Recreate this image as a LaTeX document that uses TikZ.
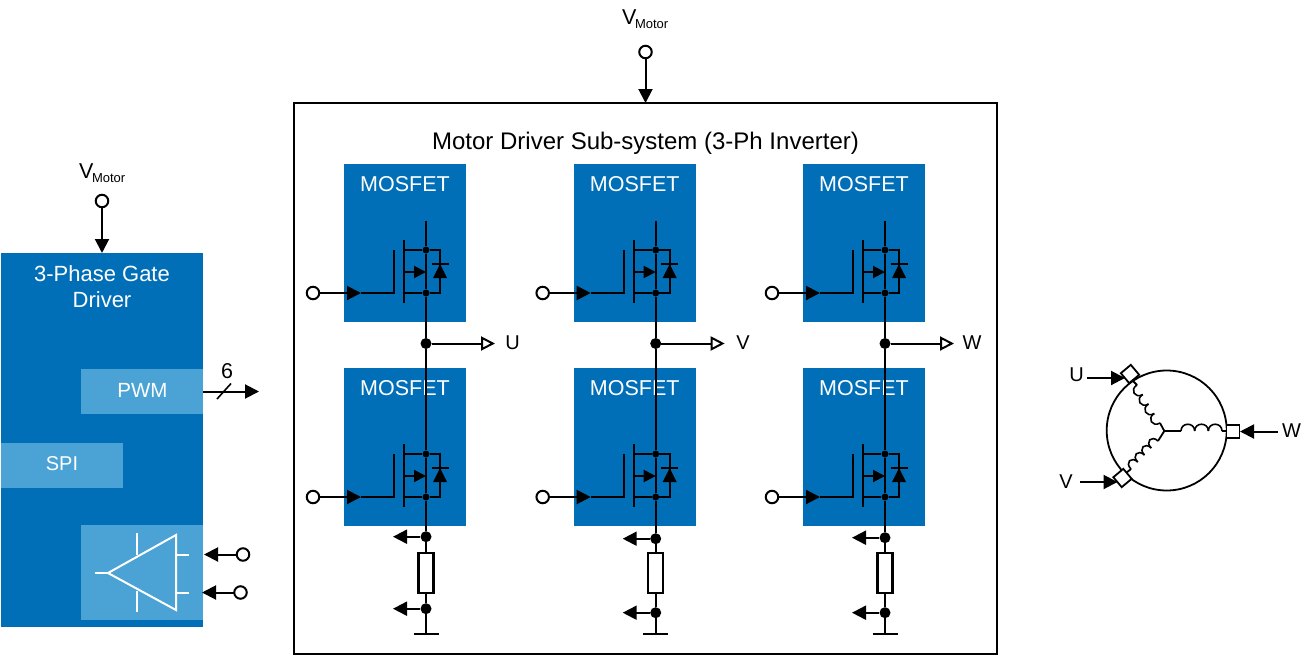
\documentclass[tikz,border=0pt]{standalone}
\usepackage{fontspec}
\setmainfont{Liberation Sans}
\usetikzlibrary{arrows.meta,calc}
\definecolor{tiblue}{HTML}{006FB8}
\definecolor{tilight}{HTML}{4BA2D5}
\tikzset{
  x=1pt,y=-1pt,
  wire/.style={line width=2pt,draw=black},
  thick wire/.style={line width=2.4pt,draw=black},
  solid tip/.style={-{Triangle[length=14pt,width=14pt,fill=black]}},
  open tip/.style={-{Triangle[length=14pt,width=14pt,open,fill=white,line width=2pt]}},
  whitewire/.style={line width=2pt,draw=white},
  term/.style={circle,draw=black,fill=white,line width=2pt,minimum size=12.5pt,inner sep=0pt,outer sep=0pt},
  dotnode/.style={circle,fill=black,minimum size=#1,inner sep=0pt},
  dotnode/.default=7pt,
  bigdot/.style={dotnode=11pt},
  bluebox/.style={fill=tiblue,draw=none,inner sep=0pt,outer sep=0pt},
  lightbox/.style={fill=tilight,draw=none,inner sep=0pt,outer sep=0pt},
  wlabel/.style={text=white,font=\fontsize{21.5}{26}\selectfont,inner sep=0pt},
  klabel/.style={text=black,font=\fontsize{21.5}{26}\selectfont,inner sep=0pt},
  vlabel/.style={text=black,inner sep=0pt,anchor=base west},
  resbox/.style={draw=black,fill=white,line width=2.4pt,minimum width=15pt,minimum height=40pt,inner sep=0pt},
  motorterm/.style={draw=black,fill=white,line width=1.8pt,minimum size=13pt,inner sep=0pt},
}
\newcommand{\vmotor}{{\fontsize{21.5}{26}\selectfont V}\kern-1.5pt{\fontsize{13}{16}\selectfont\raisebox{-4pt}{Motor}}}
% #1 prefix, #2 centre x, #3 box top y, #4 drain-stub top y
\newcommand{\mosfet}[4]{%
  \path[bluebox] (#2-82,#3) rectangle (#2+40,#3+158);
  \node[wlabel] at (#2-21,#3+20.5) {MOSFET};
  \coordinate (#1top) at (#2,#4);
  \node[dotnode] (#1d) at (#2,#3+86) {};
  \node[dotnode] (#1s) at (#2,#3+129) {};
  \coordinate (#1b) at (#2,#3+108);
  \coordinate (#1ch1) at (#2-22,#3+76);
  \coordinate (#1ch2) at (#2-22,#3+139);
  \coordinate (#1chd) at (#2-22,#3+86);
  \coordinate (#1chs) at (#2-22,#3+129);
  \coordinate (#1chb) at (#2-22,#3+108);
  \coordinate (#1g1) at (#2-32,#3+86);
  \coordinate (#1g2) at (#2-32,#3+129);
  \coordinate (#1gt) at (#2-65,#3+129);
  \node[term] (#1in) at (#2-113,#3+129) {};
  \coordinate (#1ddr) at (#2+14,#3+86);
  \coordinate (#1dsr) at (#2+14,#3+129);
  \coordinate (#1dk) at (#2+14,#3+100);
  \coordinate (#1da) at (#2+14,#3+114);
  \draw[wire] (#1top) -- (#1d);
  \draw[wire] (#1d) -- (#1s);
  \draw[wire] (#1ch1) -- (#1ch2);
  \draw[wire] (#1chd) -- (#1d);
  \draw[wire] (#1chs) -- (#1s);
  \draw[wire,-{Triangle[length=12pt,width=12pt,fill=black]}] (#1chb) -- (#1b);
  \draw[wire] (#1b) -- (#1d);
  \draw[wire] (#1d) -- (#1ddr) -- (#1dsr) -- (#1s);
  \draw[wire] ($(#1dk)+(-8.5,0)$) -- ($(#1dk)+(8.5,0)$);
  \fill[black] (#1dk) -- ($(#1da)+(-7,0)$) -- ($(#1da)+(7,0)$) -- cycle;
  \draw[wire] (#1g1) -- (#1g2) -- (#1gt);
  \draw[wire,solid tip] (#1in) -- (#1gt);
}
% #1 prefix, #2 centre x, #3 upper dot y, #4 res top y, #5 lower dot y
\newcommand{\shunt}[5]{%
  \node[bigdot] (#1a) at (#2,#3) {};
  \node[bigdot] (#1c) at (#2,#5) {};
  \node[resbox] (#1r) at (#2,#4+21) {};
  \coordinate (#1g) at (#2,634);
  \coordinate (#1al) at (#2-33,#3);
  \coordinate (#1cl) at (#2-33,#5);
  \draw[thick wire] (#1s) -- (#1a);
  \draw[thick wire] (#1a) -- (#1r);
  \draw[wire] (#1r) -- (#1c);
  \draw[wire] (#1c) -- (#1g);
  \draw[wire] ($(#1g)+(-12.5,0)$) -- ($(#1g)+(12.5,0)$);
  \draw[wire,solid tip] (#1a) -- (#1al);
  \draw[wire,solid tip] (#1c) -- (#1cl);
}
% #1 A, #2 B, #3 humps, #4 side angle
\newcommand{\coil}[4]{%
  \foreach \i in {1,...,#3}{%
    \coordinate (p) at ($(#1)!{(\i-1)/#3}!(#2)$);
    \coordinate (q) at ($(#1)!{\i/#3}!(#2)$);
    \draw[line width=1.6pt] (p) .. controls ($(p)!9pt!#4:(q)$) and ($(q)!9pt!-#4:(p)$) .. (q);
  }%
}
\begin{document}
\begin{tikzpicture}
\useasboundingbox (0,0) rectangle (1312,656);

% ---- gate driver
\path[bluebox] (1,253) rectangle (203,627);
\node[wlabel,align=center,font=\fontsize{22}{26}\selectfont] at (102,287) {3-Phase Gate\\Driver};
\path[lightbox] (81,369) rectangle (203,414);
\node[wlabel,font=\fontsize{20.5}{25}\selectfont] (pwm) at (142.5,390) {PWM};
\path[lightbox] (1,443) rectangle (123,488);
\node[wlabel,font=\fontsize{20}{25}\selectfont] at (62,464) {SPI};
\path[lightbox] (81,525) rectangle (203,620);
\coordinate (amptip) at (108,573);
\coordinate (ampt) at (176,535);
\coordinate (ampb) at (176,610);
\draw[whitewire,line join=miter] (amptip) -- (ampt) -- (ampb) -- cycle;
\draw[whitewire] (95,573) -- (amptip);
\draw[whitewire] (137,533) -- (137,555);
\draw[whitewire] (137,591) -- (137,612);
\draw[whitewire] (176,554.5) -- (189,554.5);
\draw[whitewire] (176,592.5) -- (189,592.5);

\node[term] (ain1) at (243,554.5) {};
\coordinate (aout1) at (204,554.5);
\draw[wire,solid tip] (ain1) -- (aout1);
\node[term] (ain2) at (240.5,592.5) {};
\coordinate (aout2) at (202,592.5);
\draw[wire,solid tip] (ain2) -- (aout2);

\coordinate (pwmstart) at (203,391.5);
\coordinate (pwmend) at (259,391.5);
\draw[wire,solid tip] (pwmstart) -- (pwmend);
\draw[line width=1.6pt] (217,399) -- (231,383.5);
\node[klabel] at (227,371) {6};

\node[vlabel] at (79,178.5) {\vmotor};
\node[term] (vd) at (102,201) {};
\coordinate (vdend) at (102,253);
\draw[wire,solid tip] (vd) -- (vdend);

% ---- inverter frame
\draw[line width=2.2pt,draw=black,fill=white] (294,103) rectangle (997,654);
\coordinate (frametop) at (645.5,103);
\node[vlabel] at (622,24.5) {\vmotor};
\node[term] (vm) at (645.5,52) {};
\draw[wire,solid tip] (vm) -- (frametop);
\node[klabel,font=\fontsize{24}{28}\selectfont] at (645.5,143) {Motor Driver Sub-system (3-Ph Inverter)};

% ---- power stages
\mosfet{ah}{426}{164}{221}
\mosfet{bh}{655.7}{164}{221}
\mosfet{ch}{885}{164}{221}
\mosfet{al}{426}{368}{368}
\mosfet{bl}{655.7}{368}{368}
\mosfet{cl}{885}{368}{368}

\foreach \pre/\cx/\lab/\lx in {a/426/U/512.5,b/655.7/V/743,c/885/W/972}{
  \node[bigdot] (\pre j) at (\cx,343.5) {};
  \coordinate (\pre o) at (\cx+69,343.5);
  \draw[thick wire] (\pre hs) -- (\pre j);
  \draw[thick wire] (\pre j) -- (\pre ld);
  \draw[wire,open tip] (\pre j) -- (\pre o);
  \node[klabel,font=\fontsize{20}{24}\selectfont] at (\lx,342.5) {\lab};
}

\shunt{al}{426}{536.7}{551.7}{608.7}
\shunt{bl}{655.7}{538.7}{551.7}{612.7}
\shunt{cl}{885}{537.7}{551.7}{612.7}

% ---- motor
\node[circle,draw=black,line width=1.8pt,fill=white,minimum size=120pt,inner sep=0pt] (motor) at (1166.7,430.5) {};
\coordinate (star) at (1164.3,431);
\coordinate (wa) at (1181,431);
\coordinate (wb) at (1222,431);
\coordinate (ua) at (1137,385);
\coordinate (ub) at (1160,423);
\coordinate (va) at (1158,441);
\coordinate (vb) at (1131,469);
\draw[line width=1.8pt] (star) -- (wa);
\coil{wa}{wb}{3}{90}
\draw[line width=1.8pt] (wb) -- (1227,431);
\draw[line width=1.8pt] (star) -- (ub);
\coil{ua}{ub}{4}{-90}
\draw[line width=1.8pt] (1133,381) -- (ua);
\draw[line width=1.8pt] (star) -- (va);
\coil{va}{vb}{4}{-90}
\draw[line width=1.8pt] (vb) -- (1126,473);
\node[motorterm,rotate=40] (tu) at (1130,374) {};
\node[motorterm,rotate=40] (tv) at (1122.5,478) {};
\node[motorterm] (tw) at (1233,431.5) {};
\coordinate (us) at (1087,378);
\coordinate (ue) at (1125,378);
\coordinate (vs) at (1080,482);
\coordinate (ve) at (1117.5,482);
\coordinate (ws) at (1278,431.5);
\coordinate (we) at (1240,431.5);
\draw[wire,solid tip] (us) -- (ue);
\draw[wire,solid tip] (vs) -- (ve);
\draw[wire,solid tip] (ws) -- (we);
\node[klabel,font=\fontsize{20}{24}\selectfont] at (1076.5,375) {U};
\node[klabel,font=\fontsize{20}{24}\selectfont] at (1066,482) {V};
\node[klabel,font=\fontsize{20}{24}\selectfont] at (1291.5,431) {W};
\end{tikzpicture}
\end{document}
